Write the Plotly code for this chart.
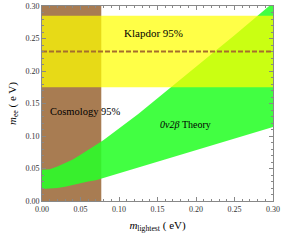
import plotly.graph_objects as go

# ---- data ----
m_lightest = [0.0, 0.01, 0.02, 0.03, 0.04, 0.05, 0.06, 0.07, 0.08, 0.10,
              0.125, 0.15, 0.175, 0.20, 0.225, 0.25, 0.275, 0.30]
mee_upper = [0.048, 0.049, 0.053, 0.058, 0.064, 0.071, 0.078, 0.086, 0.094, 0.112,
             0.134, 0.158, 0.182, 0.206, 0.231, 0.255, 0.280, 0.305]
mee_lower = [0.0185, 0.019, 0.020, 0.022, 0.024, 0.027, 0.030, 0.032, 0.035, 0.042,
             0.051, 0.060, 0.069, 0.078, 0.087, 0.096, 0.105, 0.114]
cosmology_limit = 0.077
klapdor_low = 0.175
klapdor_high = 0.285
klapdor_best = 0.23
x_range = [0.0, 0.30]
y_range = [0.0, 0.30]
tick_vals = [0.00, 0.05, 0.10, 0.15, 0.20, 0.25, 0.30]
tick_text = ["0.00", "0.05", "0.10", "0.15", "0.20", "0.25", "0.30"]

SERIF = "Liberation Serif, Times New Roman, serif"

fig = go.Figure()

# Cosmology band (brown)
fig.add_trace(go.Scatter(
    x=[x_range[0], cosmology_limit, cosmology_limit, x_range[0], x_range[0]],
    y=[y_range[0], y_range[0], y_range[1], y_range[1], y_range[0]],
    fill="toself", fillcolor="rgb(168,124,82)", line=dict(width=0),
    mode="lines", hoverinfo="skip", showlegend=False))

# 0v2b theory band (green)
fig.add_trace(go.Scatter(
    x=m_lightest + m_lightest[::-1],
    y=mee_upper + mee_lower[::-1],
    fill="toself", fillcolor="rgba(40,255,40,0.88)", line=dict(width=0),
    mode="lines", hoverinfo="skip", showlegend=False))

# Klapdor band (yellow)
fig.add_trace(go.Scatter(
    x=[x_range[0], x_range[1], x_range[1], x_range[0], x_range[0]],
    y=[klapdor_low, klapdor_low, klapdor_high, klapdor_high, klapdor_low],
    fill="toself", fillcolor="rgba(255,255,0,0.72)", line=dict(width=0),
    mode="lines", hoverinfo="skip", showlegend=False))

# Klapdor best-fit dashed line
fig.add_trace(go.Scatter(
    x=x_range, y=[klapdor_best, klapdor_best], mode="lines",
    line=dict(color="rgb(165,110,45)", width=2, dash="5px,2px"),
    hoverinfo="skip", showlegend=False))

annots = [
    dict(x=0.145, y=0.258, text="Klapdor 95%", size=11),
    dict(x=0.056, y=0.137, text="Cosmology 95%", size=10.5),
    dict(x=0.186, y=0.118, text="<i>0ν2β</i> Theory", size=10),
]
for a in annots:
    fig.add_annotation(x=a["x"], y=a["y"], text=a["text"], showarrow=False,
                       font=dict(family=SERIF, size=a["size"], color="black"),
                       xanchor="center", yanchor="middle")

axis_common = dict(
    showgrid=False, zeroline=False, showline=True, linecolor="#888888",
    linewidth=1, mirror="ticks", ticks="inside", ticklen=4, tickcolor="#888888",
    tickvals=tick_vals, ticktext=tick_text, ticklabeloverflow="allow",
    tickfont=dict(family=SERIF, size=8, color="#333333"),
    minor=dict(dtick=0.01, ticks="inside", ticklen=2, tickcolor="#888888"),
    automargin=False,
)

fig.update_xaxes(range=x_range, **axis_common,
                 title=dict(text="<i>m</i><sub>lightest</sub> ( eV)",
                            font=dict(family=SERIF, size=11, color="black"),
                            standoff=8))
fig.update_yaxes(range=y_range, **axis_common,
                 title=dict(text="<i>m</i><sub>ee</sub> ( e V)",
                            font=dict(family=SERIF, size=11, color="black"),
                            standoff=6))

fig.update_layout(
    width=283, height=242,
    margin=dict(l=42, r=10, t=6, b=41, autoexpand=False),
    paper_bgcolor="white", plot_bgcolor="white",
)

fig.write_html("out.html",
               config={"displayModeBar": False},
               post_script="document.body.style.margin='0';"
                           "document.body.style.overflow='hidden';")
